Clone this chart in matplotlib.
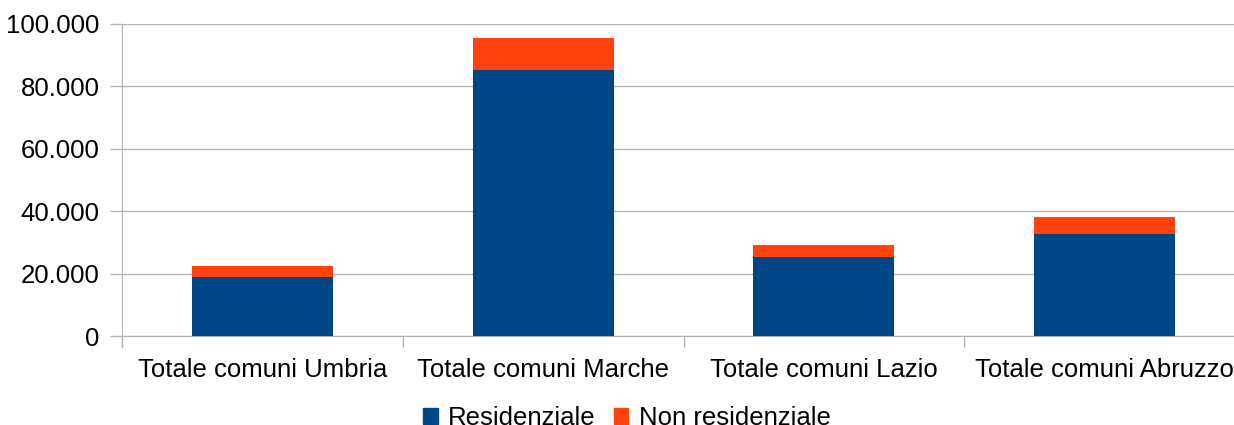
import matplotlib
matplotlib.use("Agg")
import matplotlib.pyplot as plt
from matplotlib.ticker import FuncFormatter, FixedLocator
from matplotlib.patches import Patch

plt.rcParams["font.family"] = ["Liberation Sans", "DejaVu Sans"]

# ── Data ─────────────────────────────────────────────────────────────────────
categories = ["Totale comuni Umbria", "Totale comuni Marche",
              "Totale comuni Lazio", "Totale comuni Abruzzo"]
residenziale = [18900, 85400, 25300, 32800]
non_residenziale = [3600, 10200, 3900, 5300]
series_names = ["Residenziale", "Non residenziale"]

BLUE = "#004586"
ORANGE = "#ff420e"
GRID = "#b3b3b3"
FS = 18.5

fig = plt.figure(figsize=(12.34, 4.25), dpi=100)
ax = fig.add_axes([122 / 1234, 89 / 425, 1123 / 1234, 312 / 425])

x = [i + 0.5 for i in range(len(categories))]
ax.bar(x, residenziale, width=0.503, color=BLUE, zorder=3)
ax.bar(x, non_residenziale, width=0.503, bottom=residenziale, color=ORANGE, zorder=3)

ax.set_xlim(0, len(categories))
ax.set_ylim(0, 100000)
ax.set_yticks(range(0, 100001, 20000))
ax.yaxis.set_major_formatter(FuncFormatter(lambda v, _: f"{int(v):,}".replace(",", ".")))
ax.grid(axis="y", color=GRID, linewidth=1.0, zorder=0)

# category boundaries as ticks, labels in the middle
ax.xaxis.set_major_locator(FixedLocator(range(len(categories) + 1)))
ax.xaxis.set_minor_locator(FixedLocator(x))
ax.set_xticklabels([""] * (len(categories) + 1))
ax.set_xticklabels(categories, minor=True)
ax.tick_params(axis="x", which="major", length=8, color=GRID, width=1)
ax.tick_params(axis="x", which="minor", length=0, pad=16, labelsize=FS)
ax.tick_params(axis="y", length=9, color=GRID, width=1, pad=7, labelsize=FS)

for side in ("top", "right"):
    ax.spines[side].set_visible(False)
for side in ("left", "bottom"):
    ax.spines[side].set_color(GRID)
ax.spines["left"].set_bounds(-3500, 100000)

handles = [Patch(color=BLUE), Patch(color=ORANGE)]
fig.legend(handles, series_names, loc="center", bbox_to_anchor=(0.508, 7 / 425),
           ncol=2, frameon=False, fontsize=FS, handlelength=0.56, handleheight=0.56,
           handletextpad=0.4, columnspacing=0.72, borderpad=0)

fig.savefig("out.png", dpi=100)
